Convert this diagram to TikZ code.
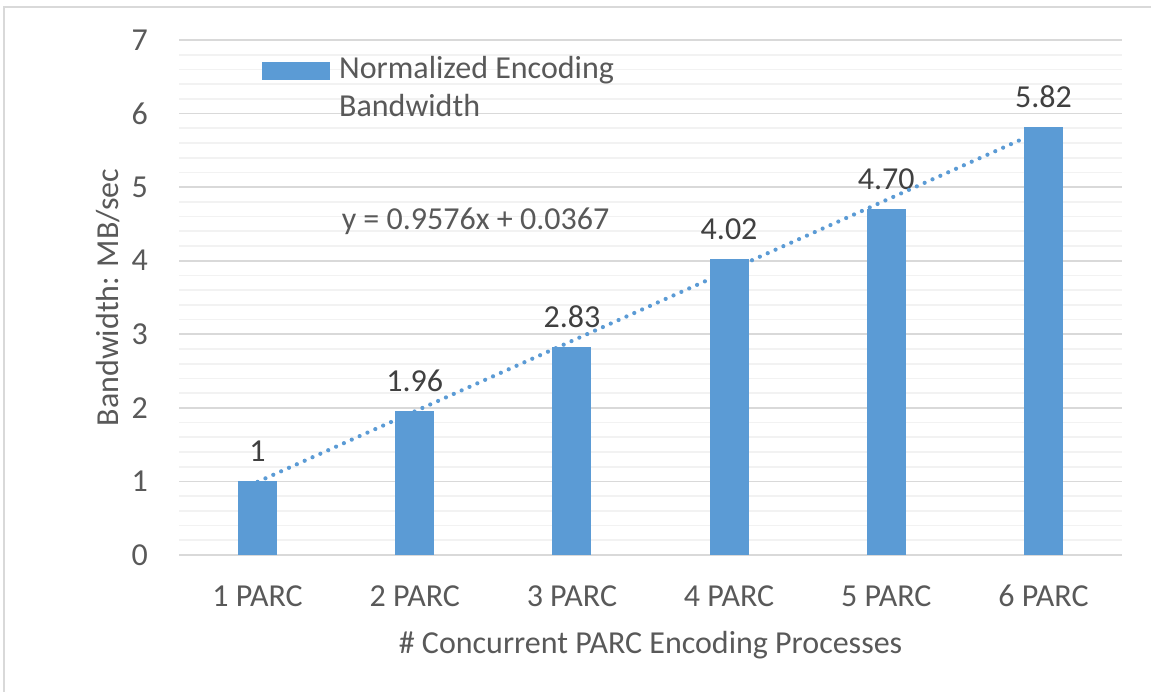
\documentclass[tikz,border=0pt]{standalone}
\usepackage{fontspec}
\setmainfont{Carlito}
\definecolor{barblue}{HTML}{5B9BD5}
\definecolor{axistext}{HTML}{595959}
\definecolor{labeltext}{HTML}{404040}
\definecolor{majorgrid}{HTML}{D9D9D9}
\definecolor{minorgrid}{HTML}{F2F2F2}
\begin{document}
\begin{tikzpicture}[x=1pt,y=-1pt,
  chartfont/.style={font=\fontsize{32}{38.4}\selectfont, inner sep=0pt},
  ticklabel/.style={chartfont, text=axistext},
  datalabel/.style={chartfont, text=labeltext},
  majorline/.style={draw=majorgrid, line width=1.6pt},
  minorline/.style={draw=minorgrid, line width=1.6pt},
  barstyle/.style={fill=barblue},
  trendstyle/.style={draw=barblue, line width=4.2pt, line cap=round, dash pattern=on 0pt off 8.6pt}]
\useasboundingbox (0,0) rectangle (1151,692);
\fill[white] (0,0) rectangle (1151,692);
% chart frame
\draw[majorgrid, line width=1.5pt] (1151,7) -- (4,7) -- (4,692);

% plot area: origin at the left end of the zero line, values upward
\begin{scope}[shift={(179,555)}, x=157.17pt, y=73.571pt]
  % minor gridlines every 0.2
  \foreach \k in {1,...,34}{
    \draw[minorline] (0,\k/5) -- (6,\k/5);
  }
  % major gridlines
  \foreach \v in {0,...,7}{
    \draw[majorline] (0,\v) -- (6,\v);
    \node[ticklabel, anchor=east, xshift=-31pt] (tick\v) at (0,\v) {\v};
  }
  % bars, category labels and data labels
  \foreach \i/\v/\lab in {1/1/1, 2/1.96/1.96, 3/2.83/2.83, 4/4.02/4.02, 5/4.70/4.70, 6/5.82/5.82}{
    \fill[barstyle] (\i-0.5-0.124,0) rectangle (\i-0.5+0.124,\v);
    \node[datalabel, yshift=30pt] (val\i) at (\i-0.5,\v) {\lab};
    \node[ticklabel] (cat\i) at (\i-0.5,-0.557) {\i{} PARC};
  }
  % linear trendline
  \coordinate (trendA) at (0.5,{0.9576*1+0.0367});
  \coordinate (trendB) at (5.5,{0.9576*6+0.0367});
  \draw[trendstyle] (trendA) -- (trendB);
\end{scope}

% axis titles
\node[ticklabel, anchor=base] (xtitle) at (650.5,653) {\# Concurrent PARC Encoding Processes};
\node[ticklabel, anchor=base, rotate=90] (ytitle) at (118,297.5) {Bandwidth: MB/sec};

% trendline equation
\node[ticklabel, anchor=base] (equation) at (475.5,229.3) {y = 0.9576x + 0.0367};

% legend
\fill[barstyle] (262,62.3) rectangle (330,80) coordinate (legswatch);
\node[ticklabel, anchor=base west] (leg1) at (339,78.3) {Normalized Encoding};
\node[ticklabel, anchor=base west] (leg2) at (339,116.7) {Bandwidth};
\end{tikzpicture}
\end{document}
